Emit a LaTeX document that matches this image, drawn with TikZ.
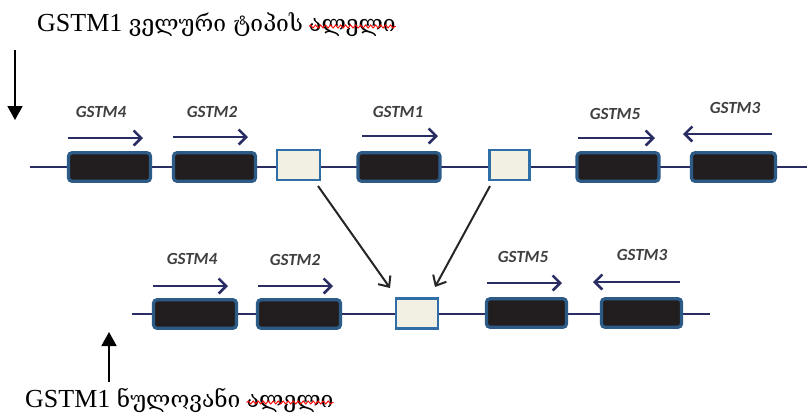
\documentclass[tikz,border=0pt]{standalone}
\usepackage{fontspec}
\setmainfont{Liberation Serif}
\newfontfamily\geofont{DejaVu Serif}
\newfontfamily\labfont{Carlito}
\usetikzlibrary{arrows.meta,decorations.pathmorphing}
\definecolor{navy}{HTML}{2A2D63}
\definecolor{boxfill}{HTML}{221E1F}
\definecolor{boxedge}{HTML}{2D5B88}
\definecolor{lightfill}{HTML}{F2EFE3}
\definecolor{lightedge}{HTML}{2F6EA6}
\definecolor{labgray}{HTML}{3F3F3F}
\definecolor{diag}{HTML}{262626}
\newcommand{\geo}[1]{{\geofont\fontsize{22.8}{26}\selectfont #1}}
\tikzset{
  genebox/.style={draw=boxedge, fill=boxfill, line width=3.2pt, rounded corners=3.5pt,
    minimum width=82pt, minimum height=28.5pt, inner sep=0pt},
  delbox/.style={draw=lightedge, fill=lightfill, line width=2.6pt,
    minimum height=30pt, inner sep=0pt},
  backbone/.style={draw=navy, line width=2pt},
  genearrow/.style={draw=navy, line width=2.9pt, -{Straight Barb[length=7.5pt,width=15pt,line width=2.6pt]}},
  genelabel/.style={font=\labfont\bfseries\itshape\fontsize{17}{19}\selectfont, text=labgray, inner sep=0pt},
  diagarrow/.style={draw=diag, line width=2pt, -{Straight Barb[length=8.5pt,width=15pt,line width=2pt]}},
  pointer/.style={draw=black, line width=1.8pt, -{Triangle[length=14pt,width=15pt]}},
  caption/.style={font=\fontsize{26}{30}\selectfont, inner sep=0pt, anchor=base west},
  squiggle/.style={draw=red, line width=0.9pt, decorate, decoration={snake, amplitude=1.5pt, segment length=5pt}}
}
\begin{document}
\begin{tikzpicture}[x=1pt,y=-1pt]
\useasboundingbox (0,0) rectangle (807,416);
% backbones
\coordinate (ts) at (30,167);
\coordinate (te) at (807,167);
\coordinate (bs) at (132,314);
\coordinate (be) at (710,314);
\draw[backbone] (ts) -- (te);
\draw[backbone] (bs) -- (be);
% top row
\node[genebox] (g4t) at (109.5,167) {};
\node[genebox] (g2t) at (214.5,167) {};
\node[delbox, minimum width=43pt] (w1t) at (298.5,165) {};
\node[genebox] (g1t) at (399,167) {};
\node[delbox, minimum width=40pt] (w2t) at (509.5,165) {};
\node[genebox] (g5t) at (618,167) {};
\node[genebox, minimum width=84pt] (g3t) at (733.5,167) {};
% bottom row
\node[genebox, minimum width=83pt] (g4b) at (195,314) {};
\node[genebox, minimum width=83pt] (g2b) at (299,314) {};
\node[delbox, minimum width=42pt] (wb) at (417,313.5) {};
\node[genebox, minimum width=80pt] (g5b) at (526.5,313) {};
\node[genebox, minimum width=80pt] (g3b) at (641.5,313) {};
% gene labels top
\node[genelabel] (l4t) at (101,112) {GSTM4};
\node[genelabel] (l2t) at (212,112) {GSTM2};
\node[genelabel] (l1t) at (398,112) {GSTM1};
\node[genelabel] (l5t) at (615,114) {GSTM5};
\node[genelabel] (l3t) at (735,108) {GSTM3};
% gene labels bottom
\node[genelabel] (l4b) at (192,259) {GSTM4};
\node[genelabel] (l2b) at (295,260) {GSTM2};
\node[genelabel] (l5b) at (523,257) {GSTM5};
\node[genelabel] (l3b) at (642,255) {GSTM3};
% gene direction arrows top
\coordinate (a4ts) at (68,138);  \coordinate (a4te) at (143,138);
\coordinate (a2ts) at (173,137); \coordinate (a2te) at (248,137);
\coordinate (a1ts) at (362,136); \coordinate (a1te) at (438,136);
\coordinate (a5ts) at (578,138); \coordinate (a5te) at (655,138);
\coordinate (a3ts) at (772,134); \coordinate (a3te) at (683,134);
\draw[genearrow] (a4ts) -- (a4te);
\draw[genearrow] (a2ts) -- (a2te);
\draw[genearrow] (a1ts) -- (a1te);
\draw[genearrow] (a5ts) -- (a5te);
\draw[genearrow] (a3ts) -- (a3te);
% gene direction arrows bottom
\coordinate (a4bs) at (153,286); \coordinate (a4be) at (228,286);
\coordinate (a2bs) at (258,286); \coordinate (a2be) at (333,286);
\coordinate (a5bs) at (487,283); \coordinate (a5be) at (562,283);
\coordinate (a3bs) at (680,282); \coordinate (a3be) at (593,282);
\draw[genearrow] (a4bs) -- (a4be);
\draw[genearrow] (a2bs) -- (a2be);
\draw[genearrow] (a5bs) -- (a5be);
\draw[genearrow] (a3bs) -- (a3be);
% recombination arrows
\coordinate (d1s) at (318,186); \coordinate (d1e) at (390,288);
\coordinate (d2s) at (490,186); \coordinate (d2e) at (435,287);
\draw[diagarrow] (d1s) -- (d1e);
\draw[diagarrow] (d2s) -- (d2e);
% captions
\node[caption] (ct1) at (37,31) {GSTM1 \geo{ველური ტიპის}};
\node[caption, anchor=base west] (ct2) at ([xshift=6pt]ct1.base east) {\geo{ალელი}};
\draw[squiggle] ([yshift=4.5pt]ct2.base west) -- ([yshift=4.5pt]ct2.base east);
\node[caption] (cb1) at (25,407) {GSTM1 \geo{ნულოვანი}};
\node[caption, anchor=base west] (cb2) at ([xshift=6pt]cb1.base east) {\geo{ალელი}};
\draw[squiggle] ([yshift=4.5pt]cb2.base west) -- ([yshift=4.5pt]cb2.base east);
% pointers
\coordinate (pts) at (15,50);  \coordinate (pte) at (15,120);
\coordinate (pbs) at (109,382); \coordinate (pbe) at (109,332);
\draw[pointer] (pts) -- (pte);
\draw[pointer] (pbs) -- (pbe);
\end{tikzpicture}
\end{document}
